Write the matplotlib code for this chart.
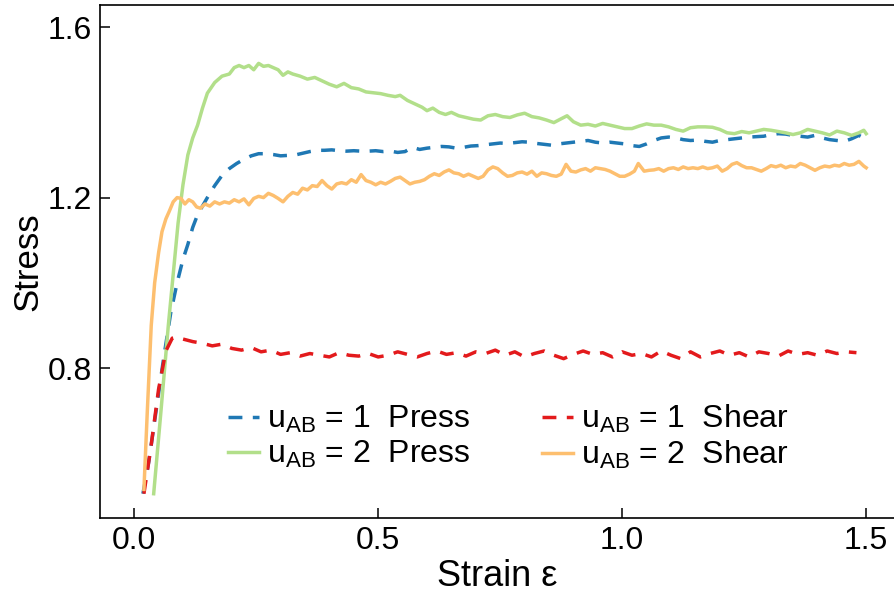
import numpy as np
import matplotlib
matplotlib.use('Agg')
import matplotlib.pyplot as plt

plt.rcParams['font.family'] = ['Liberation Sans', 'DejaVu Sans']
plt.rcParams['mathtext.default'] = 'regular'

# u_AB = 1, Press (blue dashed)
x_p1 = [0.018, 0.030, 0.045, 0.060, 0.075, 0.088, 0.100, 0.110, 0.120, 0.130,
        0.140, 0.150, 0.165, 0.180, 0.195, 0.210, 0.225, 0.240, 0.255, 0.270,
        0.285, 0.300, 0.315, 0.330, 0.345, 0.360, 0.375, 0.390, 0.405, 0.420,
        0.435, 0.450, 0.465, 0.480, 0.495, 0.510, 0.525, 0.540, 0.555, 0.570,
        0.585, 0.600, 0.615, 0.630, 0.645, 0.660, 0.675, 0.690, 0.705, 0.720,
        0.735, 0.750, 0.765, 0.780, 0.795, 0.810, 0.825, 0.840, 0.855, 0.870,
        0.885, 0.900, 0.915, 0.930, 0.945, 0.960, 0.975, 0.990, 1.005, 1.020,
        1.035, 1.050, 1.065, 1.080, 1.095, 1.110, 1.125, 1.140, 1.155, 1.170,
        1.185, 1.200, 1.215, 1.230, 1.245, 1.260, 1.275, 1.290, 1.305, 1.320,
        1.335, 1.350, 1.365, 1.380, 1.395, 1.410, 1.425, 1.440, 1.455, 1.470,
        1.485, 1.500]
y_p1 = [0.505, 0.580, 0.700, 0.820, 0.930, 1.000, 1.055, 1.090, 1.130, 1.160,
        1.180, 1.200, 1.228, 1.252, 1.268, 1.280, 1.290, 1.298, 1.303, 1.303,
        1.301, 1.298, 1.299, 1.300, 1.304, 1.308, 1.311, 1.311, 1.312, 1.310,
        1.309, 1.310, 1.309, 1.309, 1.310, 1.308, 1.309, 1.306, 1.308, 1.318,
        1.313, 1.316, 1.318, 1.320, 1.319, 1.316, 1.318, 1.321, 1.322, 1.324,
        1.326, 1.328, 1.327, 1.329, 1.331, 1.330, 1.327, 1.325, 1.323, 1.326,
        1.328, 1.330, 1.332, 1.334, 1.330, 1.328, 1.330, 1.328, 1.326, 1.322,
        1.320, 1.326, 1.334, 1.340, 1.342, 1.340, 1.336, 1.334, 1.335, 1.332,
        1.330, 1.334, 1.336, 1.338, 1.340, 1.342, 1.343, 1.344, 1.348, 1.350,
        1.349, 1.346, 1.344, 1.342, 1.346, 1.340, 1.336, 1.334, 1.332, 1.338,
        1.346, 1.337]

# u_AB = 2, Press (green solid)
x_p2 = [0.040, 0.055, 0.070, 0.080, 0.090, 0.100, 0.110, 0.120, 0.130, 0.140,
        0.150, 0.165, 0.180, 0.195, 0.205, 0.215, 0.225, 0.235, 0.245, 0.255,
        0.265, 0.275, 0.285, 0.295, 0.305, 0.315, 0.325, 0.340, 0.355, 0.370,
        0.385, 0.400, 0.415, 0.430, 0.445, 0.460, 0.475, 0.490, 0.505, 0.520,
        0.535, 0.545, 0.560, 0.575, 0.590, 0.600, 0.612, 0.625, 0.638, 0.650,
        0.665, 0.680, 0.695, 0.710, 0.725, 0.740, 0.755, 0.770, 0.785, 0.800,
        0.815, 0.830, 0.845, 0.860, 0.875, 0.887, 0.900, 0.915, 0.930, 0.945,
        0.960, 0.975, 0.990, 1.005, 1.020, 1.035, 1.050, 1.065, 1.080, 1.095,
        1.110, 1.125, 1.140, 1.155, 1.170, 1.185, 1.200, 1.215, 1.230, 1.245,
        1.260, 1.275, 1.290, 1.305, 1.320, 1.335, 1.350, 1.365, 1.380, 1.395,
        1.410, 1.425, 1.440, 1.455, 1.470, 1.485, 1.495, 1.500]
y_p2 = [0.505, 0.700, 0.900, 1.020, 1.140, 1.230, 1.300, 1.340, 1.370, 1.410,
        1.445, 1.470, 1.485, 1.490, 1.505, 1.510, 1.505, 1.510, 1.500, 1.515,
        1.508, 1.510, 1.505, 1.500, 1.487, 1.495, 1.490, 1.485, 1.478, 1.482,
        1.474, 1.466, 1.460, 1.468, 1.458, 1.455, 1.448, 1.446, 1.444, 1.440,
        1.437, 1.440, 1.428, 1.420, 1.412, 1.404, 1.410, 1.400, 1.395, 1.400,
        1.392, 1.388, 1.384, 1.382, 1.392, 1.395, 1.390, 1.388, 1.394, 1.398,
        1.390, 1.387, 1.382, 1.376, 1.385, 1.392, 1.378, 1.370, 1.372, 1.368,
        1.374, 1.370, 1.366, 1.362, 1.362, 1.368, 1.373, 1.370, 1.370, 1.366,
        1.360, 1.356, 1.364, 1.366, 1.366, 1.365, 1.360, 1.352, 1.350, 1.355,
        1.352, 1.356, 1.360, 1.358, 1.355, 1.352, 1.348, 1.352, 1.360, 1.356,
        1.352, 1.347, 1.356, 1.352, 1.346, 1.352, 1.358, 1.350]

# u_AB = 1, Shear (red dashed)
x_s1 = [0.020, 0.035, 0.050, 0.065, 0.078, 0.088,
        0.10, 0.12, 0.14, 0.16, 0.18, 0.20, 0.22, 0.24, 0.26, 0.28,
        0.30, 0.32, 0.34, 0.36, 0.38, 0.40, 0.42, 0.44, 0.46, 0.48,
        0.50, 0.52, 0.54, 0.56, 0.58, 0.60, 0.62, 0.64, 0.66, 0.68,
        0.70, 0.72, 0.74, 0.76, 0.78, 0.80, 0.82, 0.84, 0.86, 0.88,
        0.90, 0.92, 0.94, 0.96, 0.98, 1.00, 1.02, 1.04, 1.06, 1.08,
        1.10, 1.12, 1.14, 1.16, 1.18, 1.20, 1.22, 1.24, 1.26, 1.28,
        1.30, 1.32, 1.34, 1.36, 1.38, 1.40, 1.42, 1.44, 1.46, 1.48]
y_s1 = [0.505, 0.620, 0.750, 0.840, 0.870, 0.873,
        0.868, 0.862, 0.858, 0.852, 0.856, 0.846, 0.842, 0.848, 0.838, 0.842,
        0.832, 0.836, 0.828, 0.834, 0.830, 0.826, 0.836, 0.830, 0.828, 0.834,
        0.826, 0.830, 0.838, 0.832, 0.826, 0.834, 0.840, 0.832, 0.836, 0.828,
        0.838, 0.834, 0.842, 0.830, 0.838, 0.826, 0.834, 0.840, 0.830, 0.822,
        0.832, 0.840, 0.832, 0.836, 0.826, 0.838, 0.830, 0.834, 0.826, 0.840,
        0.830, 0.822, 0.838, 0.826, 0.834, 0.840, 0.830, 0.836, 0.826, 0.838,
        0.834, 0.828, 0.840, 0.832, 0.836, 0.830, 0.840, 0.834, 0.838, 0.836]

# u_AB = 2, Shear (orange solid)
x_s2 = [0.020, 0.027, 0.035, 0.042, 0.050, 0.057, 0.065, 0.072, 0.080, 0.088,
        0.096, 0.104, 0.112, 0.120, 0.128, 0.136, 0.145, 0.155, 0.165, 0.175,
        0.185, 0.195, 0.205, 0.215, 0.225, 0.235, 0.245, 0.255, 0.265, 0.275,
        0.285, 0.295, 0.305, 0.315, 0.325, 0.335, 0.345, 0.355, 0.365, 0.375,
        0.385, 0.395, 0.405, 0.415, 0.425, 0.435, 0.445, 0.455, 0.465, 0.475,
        0.485, 0.495, 0.505, 0.515, 0.525, 0.535, 0.545, 0.555, 0.565, 0.575,
        0.585, 0.595, 0.605, 0.615, 0.625, 0.635, 0.645, 0.655, 0.665, 0.675,
        0.685, 0.695, 0.705, 0.715, 0.725, 0.735, 0.745, 0.755, 0.765, 0.775,
        0.785, 0.795, 0.805, 0.815, 0.825, 0.835, 0.845, 0.855, 0.865, 0.875,
        0.885, 0.895, 0.905, 0.915, 0.925, 0.935, 0.945, 0.955, 0.965, 0.975,
        0.985, 0.995, 1.005, 1.015, 1.025, 1.033, 1.045, 1.055, 1.065, 1.075,
        1.085, 1.095, 1.105, 1.115, 1.125, 1.135, 1.145, 1.155, 1.165, 1.175,
        1.185, 1.195, 1.205, 1.215, 1.225, 1.235, 1.245, 1.255, 1.265, 1.275,
        1.285, 1.295, 1.305, 1.315, 1.325, 1.335, 1.345, 1.355, 1.365, 1.375,
        1.385, 1.395, 1.405, 1.415, 1.425, 1.435, 1.445, 1.455, 1.465, 1.475,
        1.485, 1.495, 1.500]
y_s2 = [0.515, 0.700, 0.900, 1.000, 1.070, 1.120, 1.150, 1.168, 1.190, 1.200,
        1.198, 1.185, 1.195, 1.190, 1.178, 1.175, 1.185, 1.180, 1.190, 1.185,
        1.190, 1.187, 1.195, 1.190, 1.197, 1.183, 1.198, 1.203, 1.200, 1.210,
        1.205, 1.198, 1.190, 1.203, 1.212, 1.208, 1.222, 1.218, 1.228, 1.226,
        1.240, 1.228, 1.220, 1.232, 1.235, 1.232, 1.242, 1.236, 1.254, 1.240,
        1.236, 1.230, 1.236, 1.232, 1.238, 1.245, 1.248, 1.240, 1.232, 1.236,
        1.238, 1.242, 1.250, 1.256, 1.252, 1.260, 1.265, 1.258, 1.256, 1.250,
        1.255, 1.250, 1.245, 1.250, 1.265, 1.272, 1.268, 1.258, 1.250, 1.252,
        1.258, 1.260, 1.255, 1.262, 1.250, 1.258, 1.256, 1.252, 1.250, 1.255,
        1.278, 1.262, 1.260, 1.265, 1.268, 1.262, 1.270, 1.268, 1.266, 1.262,
        1.256, 1.250, 1.250, 1.255, 1.262, 1.280, 1.262, 1.264, 1.265, 1.268,
        1.262, 1.268, 1.270, 1.266, 1.272, 1.268, 1.270, 1.268, 1.272, 1.268,
        1.270, 1.274, 1.262, 1.268, 1.278, 1.282, 1.275, 1.270, 1.270, 1.266,
        1.262, 1.268, 1.275, 1.272, 1.276, 1.270, 1.274, 1.272, 1.280, 1.276,
        1.270, 1.264, 1.270, 1.274, 1.272, 1.276, 1.274, 1.280, 1.276, 1.278,
        1.285, 1.274, 1.270]

labels = [r'$u_{AB}$ = 1  Press', r'$u_{AB}$ = 2  Press',
          r'$u_{AB}$ = 1  Shear', r'$u_{AB}$ = 2  Shear']
colors = ['#1f78b4', '#b2df8a', '#e31a1c', '#fdbf6f']

fig = plt.figure(figsize=(8.95, 5.93), dpi=100)
ax = fig.add_axes([100/895, 75/593, 795/895, 513/593])

dash = (0, (4, 3))
ax.plot(x_p1, y_p1, color=colors[0], lw=2.5, ls=dash, label=labels[0])
ax.plot(x_p2, y_p2, color=colors[1], lw=2.5, label=labels[1])
ax.plot(x_s1, y_s1, color=colors[2], lw=2.5, ls=dash, label=labels[2])
ax.plot(x_s2, y_s2, color=colors[3], lw=2.5, label=labels[3])

ax.set_xlim(-0.07, 1.559)
ax.set_ylim(0.448, 1.652)
ax.set_xticks([0.0, 0.5, 1.0, 1.5])
ax.set_yticks([0.8, 1.2, 1.6])
ax.tick_params(direction='in', length=7, width=1.1, labelsize=23, pad=6)
ax.spines['right'].set_visible(False)
for s in ['left', 'bottom', 'top']:
    ax.spines[s].set_linewidth(1.2)

ax.set_xlabel('Strain ε', fontsize=26, labelpad=2)
ax.set_ylabel('Stress', fontsize=25, labelpad=2)

ax.legend(ncol=2, frameon=False, fontsize=23, loc='center',
          bbox_to_anchor=(0.514, 0.158), handlelength=0.97,
          handletextpad=0.25, columnspacing=2.25, labelspacing=0.12)

fig.savefig('out.png', dpi=100)
